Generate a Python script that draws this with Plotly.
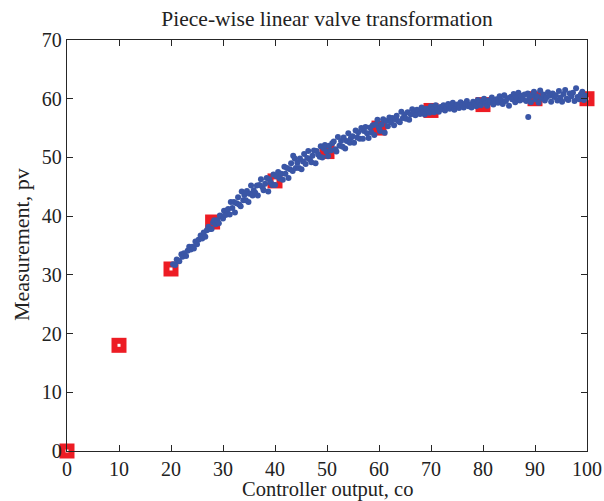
import plotly.graph_objects as go

# Piece-wise linear transformation break points (red squares)
break_co = [0, 10, 20, 28, 40, 50, 60, 70, 80, 90, 100]
break_pv = [0, 18, 31, 39, 46, 51, 55, 58, 59, 60, 60]

valve_co = [
    20.4, 20.8, 21.1, 21.3, 21.6, 22.0, 22.2, 22.5, 22.9, 23.2, 23.5, 23.8, 24.1, 24.4, 24.7, 25.0, 25.3, 25.7,
    26.0, 26.3, 26.6, 26.9, 27.2, 27.5, 27.8, 28.1, 28.3, 28.6, 28.9, 29.2, 29.4, 29.7, 30.0, 30.2, 30.5, 30.8,
    31.0, 31.3, 31.5, 31.8, 32.1, 32.3, 32.6, 32.9, 33.1, 33.4, 33.6, 33.9, 34.1, 34.4, 34.6, 34.9, 35.1, 35.4, 35.7, 35.9,
    36.2, 36.5, 36.7, 37.0, 37.3, 37.6, 37.8, 38.1, 38.4, 38.7, 38.9, 39.2, 39.5, 39.7, 40.0, 40.3, 40.6, 40.9,
    41.2, 41.5, 41.8, 42.0, 42.3, 42.6, 42.9, 43.1, 43.4, 43.5, 43.8, 44.0, 44.3, 44.6, 44.8, 45.1, 45.4, 45.6, 45.9, 46.2,
    46.4, 46.7, 47.0, 47.2, 47.5, 47.8, 48.0, 48.3, 48.6, 48.8, 49.1, 49.4, 49.6, 49.9, 50.2, 50.4, 50.7, 51.0,
    51.3, 51.6, 51.8, 52.1, 52.4, 52.7, 53.0, 53.2, 53.5, 53.8, 54.1, 54.4, 54.6, 54.9, 55.2, 55.5, 55.8, 56.0,
    56.3, 56.6, 56.9, 57.1, 57.4, 57.7, 58.0, 58.3, 58.5, 58.8, 59.1, 59.4, 59.7, 60.0, 60.2, 60.5, 60.8, 61.1,
    61.4, 61.7, 62.0, 62.3, 62.6, 62.9, 63.1, 63.4, 63.7, 64.0, 64.3, 64.6, 64.9, 65.2, 65.5, 65.8, 66.1, 66.4,
    66.7, 67.0, 67.3, 67.6, 67.9, 68.2, 68.5, 68.8, 69.1, 69.4, 69.7, 70.0, 70.3, 70.6, 70.9, 71.2, 71.5, 71.8,
    72.1, 72.4, 72.7, 73.0, 73.3, 73.6, 73.9, 74.2, 74.5, 74.8, 75.1, 75.4, 75.7, 76.0, 76.3, 76.6, 76.9, 77.2,
    77.5, 77.8, 78.1, 78.4, 78.7, 79.0, 79.3, 79.6, 79.9, 80.2, 80.5, 80.8, 81.1, 81.4, 81.7, 82.0, 82.3, 82.6,
    82.9, 83.2, 83.5, 83.8, 84.1, 84.4, 84.7, 85.0, 85.3, 85.6, 85.9, 86.2, 86.5, 86.8, 87.1, 87.4, 87.7, 88.0, 88.7,
    88.3, 88.6, 88.9, 89.2, 89.5, 89.8, 90.1, 90.4, 90.7, 91.0, 91.3, 91.6, 91.9, 92.2, 92.5, 92.8, 93.1, 93.4, 93.7,
    94.0, 94.3, 94.6, 94.9, 95.2, 95.5, 95.8, 96.1, 96.4, 96.7, 97.0, 97.3, 97.6, 97.9, 98.2, 98.5, 98.8, 99.1, 99.4, 99.7, 100.0,
]
valve_pv = [
    31.8, 31.7, 32.6, 32.4, 32.3, 33.5, 33.1, 33.7, 33.2, 34.1, 34.8, 34.3, 34.8, 34.5, 35.7, 35.2, 36.0, 36.7,
    36.2, 37.2, 36.5, 37.6, 38.2, 37.8, 37.8, 38.9, 39.3, 38.6, 39.3, 38.8, 40.1, 40.0, 39.6, 40.9, 40.2, 41.0,
    41.2, 40.3, 42.4, 41.4, 42.4, 40.6, 42.2, 43.2, 42.0, 41.7, 44.2, 42.7, 43.6, 42.7, 44.3, 42.4, 43.8, 45.2, 43.5, 44.4,
    44.0, 45.2, 43.5, 45.3, 46.3, 44.9, 44.4, 45.5, 46.5, 44.2, 46.3, 45.7, 45.3, 47.1, 45.3, 46.8, 47.5, 46.4,
    47.2, 46.2, 48.4, 47.2, 48.2, 46.5, 48.0, 49.0, 47.7, 50.3, 49.8, 48.2, 49.1, 48.2, 49.8, 48.0, 49.3, 50.6, 48.9, 49.9,
    51.1, 49.7, 49.2, 50.3, 51.2, 49.0, 51.1, 50.5, 50.1, 51.9, 50.0, 51.5, 52.1, 51.0, 50.2, 52.0, 51.2, 52.4,
    52.7, 51.4, 51.0, 53.5, 52.0, 52.8, 51.8, 53.4, 51.5, 52.8, 54.1, 52.5, 53.3, 53.6, 52.5, 54.6, 53.4, 54.3,
    53.2, 55.0, 53.2, 54.5, 55.2, 54.1, 53.3, 55.1, 54.3, 55.5, 53.8, 55.6, 56.4, 55.0, 54.5, 55.6, 56.5, 54.2,
    56.2, 55.3, 56.8, 56.0, 56.7, 55.5, 56.5, 57.1, 56.2, 56.0, 57.8, 56.7, 57.3, 56.6, 57.7, 56.4, 57.3, 58.2,
    57.6, 57.2, 58.1, 57.9, 57.4, 58.5, 57.8, 57.3, 58.3, 58.0, 57.6, 58.7, 58.2, 57.7, 58.9, 58.1, 57.8, 58.6,
    58.2, 58.9, 58.0, 58.5, 59.1, 58.3, 58.7, 59.3, 58.1, 58.8, 59.0, 58.4, 59.4, 58.9, 58.5, 59.2, 59.6, 58.7,
    59.0, 58.5, 59.5, 59.1, 58.7, 59.8, 59.3, 58.9, 59.6, 60.0, 59.2, 58.8, 59.7, 59.4, 60.2, 59.0, 59.6, 59.9,
    59.3, 60.4, 59.8, 59.1, 60.6, 59.6, 60.1, 58.8, 60.3, 59.9, 60.8, 59.4, 60.2, 61.0, 59.7, 60.5, 59.9, 60.7, 56.9,
    59.6, 60.9, 60.3, 59.4, 60.6, 61.2, 59.9, 60.4, 59.3, 61.4, 60.1, 60.7, 59.7, 60.2, 61.1, 60.5, 59.5, 60.9, 60.3,
    60.6, 59.7, 61.3, 60.2, 59.5, 60.8, 61.5, 60.0, 59.8, 60.9, 60.4, 61.0, 59.6, 61.8, 60.3, 59.9, 60.7, 61.2, 59.8, 60.5, 60.2,
]

title_text = "Piece-wise linear valve transformation"
x_title = "Controller output, co"
y_title = "Measurement, pv"

serif = "Liberation Serif, Times New Roman, serif"
axis_color = "#262626"
text_color = "#222222"

fig = go.Figure()

fig.add_trace(go.Scatter(
    x=break_co, y=break_pv, mode="markers",
    marker=dict(symbol="square", size=15, color="#ed1c24", line=dict(width=0)),
    cliponaxis=False, showlegend=False, hoverinfo="skip",
))
fig.add_trace(go.Scatter(
    x=break_co, y=break_pv, mode="markers",
    marker=dict(symbol="square", size=3, color="white", line=dict(width=0)),
    cliponaxis=False, showlegend=False, hoverinfo="skip",
))
fig.add_trace(go.Scatter(
    x=valve_co, y=valve_pv, mode="markers",
    marker=dict(symbol="circle", size=6, color="#3a56a6", line=dict(width=0)),
    showlegend=False,
))

axis_common = dict(
    showgrid=False, zeroline=False, showline=True, linecolor=axis_color, linewidth=1.3,
    mirror="ticks", ticks="inside", ticklen=6, tickwidth=1.2, tickcolor=axis_color,
    tickfont=dict(family=serif, size=20, color=text_color),
    dtick=10, automargin=False,
)

fig.update_layout(
    width=604, height=501,
    margin=dict(l=67, r=17, t=40, b=50),
    paper_bgcolor="white", plot_bgcolor="white",
    title=dict(text=title_text, x=0.5, xanchor="center", xref="paper",
               y=1 - 18 / 501, yref="container", yanchor="middle",
               font=dict(family=serif, size=21.5, color=text_color)),
    xaxis=dict(range=[0, 100], **axis_common),
    yaxis=dict(range=[0, 70], **axis_common),
    annotations=[
        dict(text=x_title, xref="paper", yref="paper", x=0.5, y=-(489.3 - 451) / 411,
             xanchor="center", yanchor="middle", showarrow=False,
             font=dict(family=serif, size=20.5, color=text_color)),
        dict(text=y_title, xref="paper", yref="paper", x=-(67 - 22) / 520, y=(451 - 245) / 411,
             xanchor="center", yanchor="middle", textangle=-90, showarrow=False,
             font=dict(family=serif, size=22, color=text_color)),
    ],
)

fig.write_html("out.html", config={"displayModeBar": False},
               post_script="document.body.style.margin='0px';")
